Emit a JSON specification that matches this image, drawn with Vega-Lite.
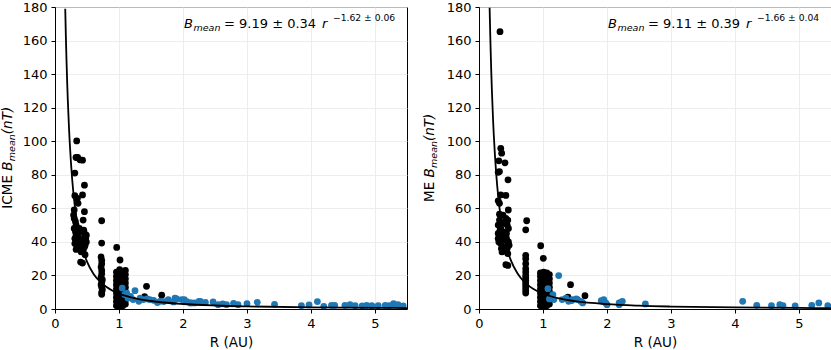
{
"$schema": "https://vega.github.io/schema/vega-lite/v6.json",
"padding": {"left": 0, "top": 0, "right": 0, "bottom": 0},
"spacing": 14,
"datasets": {
"icme_pts": [
{"R":0.339,"B":100.2,"g":"A"},{"R":0.328,"B":90.3,"g":"A"},{"R":0.354,"B":90.3,"g":"A"},{"R":0.39,"B":88.9,"g":"A"},{"R":0.43,"B":88.7,"g":"A"},{"R":0.31,"B":81,"g":"A"},{"R":0.46,"B":73.8,"g":"A"},{"R":0.31,"B":67.5,"g":"A"},{"R":0.43,"B":68,"g":"A"},{"R":0.35,"B":66,"g":"A"},{"R":0.36,"B":63,"g":"A"},{"R":0.30,"B":59,"g":"A"},{"R":0.46,"B":58,"g":"A"},{"R":0.29,"B":56,"g":"A"},{"R":0.44,"B":53,"g":"A"},{"R":0.30,"B":54,"g":"A"},{"R":0.33,"B":50,"g":"A"},{"R":0.30,"B":48,"g":"A"},{"R":0.39,"B":46,"g":"A"},{"R":0.46,"B":45,"g":"A"},{"R":0.36,"B":43,"g":"A"},{"R":0.44,"B":42,"g":"A"},{"R":0.31,"B":39,"g":"A"},{"R":0.41,"B":38,"g":"A"},{"R":0.49,"B":40,"g":"A"},{"R":0.37,"B":36,"g":"A"},{"R":0.44,"B":35,"g":"A"},{"R":0.47,"B":32.4,"g":"A"},{"R":0.43,"B":27.4,"g":"A"},{"R":0.40,"B":28,"g":"A"},{"R":0.33,"B":44,"g":"A"},{"R":0.49,"B":44,"g":"A"},{"R":0.34,"B":41,"g":"A"},{"R":0.40,"B":40,"g":"A"},{"R":0.42,"B":39,"g":"A"},{"R":0.46,"B":37,"g":"A"},{"R":0.35,"B":37,"g":"A"},{"R":0.32,"B":46,"g":"A"},{"R":0.38,"B":48,"g":"A"},{"R":0.45,"B":47,"g":"A"},{"R":0.48,"B":42,"g":"A"},{"R":0.41,"B":34,"g":"A"},{"R":0.36,"B":39,"g":"A"},{"R":0.33,"B":35.5,"g":"A"},{"R":0.47,"B":38,"g":"A"},{"R":0.32,"B":52,"g":"A"},{"R":0.31,"B":42,"g":"A"},
{"R":0.729,"B":52.6,"g":"A"},{"R":0.729,"B":39.3,"g":"A"},{"R":0.72,"B":31,"g":"A"},{"R":0.73,"B":29,"g":"A"},{"R":0.73,"B":27,"g":"A"},{"R":0.72,"B":25,"g":"A"},{"R":0.73,"B":23,"g":"A"},{"R":0.73,"B":21,"g":"A"},{"R":0.72,"B":19,"g":"A"},{"R":0.74,"B":17.5,"g":"A"},{"R":0.73,"B":16,"g":"A"},{"R":0.72,"B":14.5,"g":"A"},{"R":0.73,"B":13,"g":"A"},{"R":0.74,"B":11.5,"g":"A"},{"R":0.73,"B":10,"g":"A"},{"R":0.73,"B":8.8,"g":"A"},
{"R":0.964,"B":36.7,"g":"A"},{"R":1.016,"B":29.2,"g":"A"},
{"R":0.96,"B":2,"g":"A"},{"R":0.96,"B":4.5,"g":"A"},{"R":0.96,"B":7,"g":"A"},{"R":0.96,"B":9.5,"g":"A"},{"R":0.96,"B":12,"g":"A"},{"R":0.96,"B":14.5,"g":"A"},{"R":0.96,"B":17,"g":"A"},{"R":0.96,"B":19.5,"g":"A"},{"R":0.96,"B":22,"g":"A"},
{"R":1.01,"B":1.5,"g":"A"},{"R":1.01,"B":4,"g":"A"},{"R":1.01,"B":6.5,"g":"A"},{"R":1.01,"B":9,"g":"A"},{"R":1.01,"B":11.5,"g":"A"},{"R":1.01,"B":14,"g":"A"},{"R":1.01,"B":16.5,"g":"A"},{"R":1.01,"B":19,"g":"A"},{"R":1.01,"B":21.5,"g":"A"},{"R":1.01,"B":23.5,"g":"A"},
{"R":1.06,"B":2,"g":"A"},{"R":1.06,"B":4.5,"g":"A"},{"R":1.06,"B":7,"g":"A"},{"R":1.06,"B":9.5,"g":"A"},{"R":1.06,"B":12,"g":"A"},{"R":1.06,"B":14.5,"g":"A"},{"R":1.06,"B":17,"g":"A"},{"R":1.06,"B":19.5,"g":"A"},{"R":1.06,"B":22,"g":"A"},
{"R":1.1,"B":3,"g":"A"},{"R":1.1,"B":5.5,"g":"A"},{"R":1.1,"B":8,"g":"A"},{"R":1.1,"B":10.5,"g":"A"},{"R":1.1,"B":13,"g":"A"},{"R":1.1,"B":15.5,"g":"A"},{"R":1.1,"B":18,"g":"A"},{"R":1.1,"B":20.5,"g":"A"},{"R":1.1,"B":23,"g":"A"},
{"R":1.43,"B":13.5,"g":"A"},{"R":1.667,"B":8.2,"g":"A"},{"R":1.40,"B":7.3,"g":"A"},
{"R":1.05,"B":12.5,"g":"B"},{"R":1.25,"B":10.9,"g":"B"},{"R":1.09,"B":8.6,"g":"B"},{"R":1.14,"B":6.5,"g":"B"},{"R":1.22,"B":5.6,"g":"B"},{"R":1.31,"B":4.6,"g":"B"},{"R":1.33,"B":6.5,"g":"B"},{"R":1.38,"B":5.6,"g":"B"},{"R":1.44,"B":6.0,"g":"B"},{"R":1.48,"B":5.6,"g":"B"},{"R":1.54,"B":5.2,"g":"B"},{"R":1.64,"B":4.6,"g":"B"},{"R":1.77,"B":5.6,"g":"B"},{"R":1.875,"B":6.5,"g":"B"},{"R":1.90,"B":6.0,"g":"B"},{"R":1.98,"B":5.6,"g":"B"},{"R":2.02,"B":5.6,"g":"B"},{"R":2.11,"B":3.6,"g":"B"},{"R":2.13,"B":3.6,"g":"B"},{"R":2.18,"B":3.6,"g":"B"},{"R":2.25,"B":4.6,"g":"B"},{"R":2.27,"B":4.6,"g":"B"},{"R":2.47,"B":4.2,"g":"B"},{"R":2.55,"B":2.6,"g":"B"},{"R":2.68,"B":2.6,"g":"B"},{"R":2.79,"B":3.4,"g":"B"},{"R":2.86,"B":2.6,"g":"B"},{"R":3.0,"B":3.2,"g":"B"},{"R":3.16,"B":4.0,"g":"B"},{"R":3.43,"B":2.8,"g":"B"},{"R":3.85,"B":2.0,"g":"B"},{"R":3.97,"B":2.4,"g":"B"},{"R":4.10,"B":4.4,"g":"B"},{"R":4.32,"B":2.2,"g":"B"},{"R":4.37,"B":2.2,"g":"B"},{"R":4.53,"B":2.2,"g":"B"},{"R":4.61,"B":2.6,"g":"B"},{"R":4.69,"B":2.0,"g":"B"},{"R":4.87,"B":2.2,"g":"B"},{"R":4.95,"B":2.0,"g":"B"},{"R":5.05,"B":2.0,"g":"B"},{"R":5.16,"B":2.2,"g":"B"},{"R":5.29,"B":3.2,"g":"B"},{"R":5.36,"B":2.6,"g":"B"},{"R":5.44,"B":1.8,"g":"B"},
{"R":1.12,"B":9.5,"g":"B"},{"R":1.18,"B":7.5,"g":"B"},{"R":1.6,"B":3.8,"g":"B"},{"R":1.7,"B":4.4,"g":"B"},{"R":1.85,"B":4.2,"g":"B"},{"R":2.06,"B":4.4,"g":"B"},{"R":2.35,"B":3.9,"g":"B"},{"R":2.62,"B":3.1,"g":"B"},{"R":4.2,"B":1.6,"g":"B"},{"R":4.8,"B":1.8,"g":"B"},{"R":5.22,"B":2.0,"g":"B"}
],
"me_pts": [
{"R":0.328,"B":165.3,"g":"A"},{"R":0.34,"B":95.8,"g":"A"},{"R":0.354,"B":92.9,"g":"A"},{"R":0.31,"B":88.3,"g":"A"},{"R":0.406,"B":87.1,"g":"A"},{"R":0.32,"B":81.9,"g":"A"},{"R":0.30,"B":81.5,"g":"A"},{"R":0.453,"B":77,"g":"A"},{"R":0.34,"B":68,"g":"A"},{"R":0.42,"B":67.7,"g":"A"},{"R":0.30,"B":64.5,"g":"A"},{"R":0.32,"B":63,"g":"A"},{"R":0.458,"B":59,"g":"A"},{"R":0.32,"B":56.5,"g":"A"},{"R":0.375,"B":56,"g":"A"},{"R":0.42,"B":54,"g":"A"},{"R":0.45,"B":53,"g":"A"},{"R":0.32,"B":53,"g":"A"},{"R":0.30,"B":50,"g":"A"},{"R":0.34,"B":48,"g":"A"},{"R":0.30,"B":45,"g":"A"},{"R":0.36,"B":44,"g":"A"},{"R":0.30,"B":42,"g":"A"},{"R":0.38,"B":41,"g":"A"},{"R":0.43,"B":42,"g":"A"},{"R":0.46,"B":40,"g":"A"},{"R":0.34,"B":39,"g":"A"},{"R":0.40,"B":37,"g":"A"},{"R":0.44,"B":36,"g":"A"},{"R":0.36,"B":34,"g":"A"},{"R":0.45,"B":33,"g":"A"},{"R":0.42,"B":26.4,"g":"A"},{"R":0.45,"B":26,"g":"A"},{"R":0.33,"B":47,"g":"A"},{"R":0.38,"B":46,"g":"A"},{"R":0.43,"B":45,"g":"A"},{"R":0.46,"B":48,"g":"A"},{"R":0.31,"B":40,"g":"A"},{"R":0.40,"B":43,"g":"A"},{"R":0.35,"B":36,"g":"A"},{"R":0.47,"B":38,"g":"A"},{"R":0.44,"B":50,"g":"A"},{"R":0.37,"B":51,"g":"A"},
{"R":0.745,"B":52.6,"g":"A"},{"R":0.73,"B":47.2,"g":"A"},{"R":0.73,"B":32,"g":"A"},{"R":0.73,"B":30,"g":"A"},{"R":0.73,"B":27,"g":"A"},{"R":0.73,"B":24,"g":"A"},{"R":0.73,"B":22,"g":"A"},{"R":0.73,"B":20,"g":"A"},{"R":0.73,"B":18.5,"g":"A"},{"R":0.73,"B":17,"g":"A"},{"R":0.73,"B":15.5,"g":"A"},{"R":0.73,"B":14,"g":"A"},{"R":0.73,"B":12.5,"g":"A"},{"R":0.73,"B":11,"g":"A"},{"R":0.73,"B":9.5,"g":"A"},
{"R":0.964,"B":37.7,"g":"A"},{"R":1.005,"B":30.2,"g":"A"},
{"R":0.96,"B":2,"g":"A"},{"R":0.96,"B":4.5,"g":"A"},{"R":0.96,"B":7,"g":"A"},{"R":0.96,"B":9.5,"g":"A"},{"R":0.96,"B":12,"g":"A"},{"R":0.96,"B":14.5,"g":"A"},{"R":0.96,"B":17,"g":"A"},{"R":0.96,"B":19.5,"g":"A"},{"R":0.96,"B":21.5,"g":"A"},
{"R":1.01,"B":1.5,"g":"A"},{"R":1.01,"B":4,"g":"A"},{"R":1.01,"B":6.5,"g":"A"},{"R":1.01,"B":9,"g":"A"},{"R":1.01,"B":11.5,"g":"A"},{"R":1.01,"B":14,"g":"A"},{"R":1.01,"B":16.5,"g":"A"},{"R":1.01,"B":19,"g":"A"},{"R":1.01,"B":22,"g":"A"},
{"R":1.06,"B":2,"g":"A"},{"R":1.06,"B":4.5,"g":"A"},{"R":1.06,"B":7,"g":"A"},{"R":1.06,"B":9.5,"g":"A"},{"R":1.06,"B":12,"g":"A"},{"R":1.06,"B":14.5,"g":"A"},{"R":1.06,"B":17,"g":"A"},{"R":1.06,"B":19.5,"g":"A"},{"R":1.06,"B":21.5,"g":"A"},
{"R":1.1,"B":3,"g":"A"},{"R":1.1,"B":5.5,"g":"A"},{"R":1.1,"B":8,"g":"A"},{"R":1.1,"B":10.5,"g":"A"},{"R":1.1,"B":13,"g":"A"},{"R":1.1,"B":15.5,"g":"A"},{"R":1.1,"B":18,"g":"A"},{"R":1.1,"B":20.5,"g":"A"},
{"R":1.43,"B":14.5,"g":"A"},{"R":1.39,"B":7.1,"g":"A"},{"R":1.656,"B":7.9,"g":"A"},
{"R":1.245,"B":19.9,"g":"B"},{"R":1.077,"B":12.1,"g":"B"},{"R":1.155,"B":8.6,"g":"B"},{"R":1.17,"B":5.6,"g":"B"},{"R":1.36,"B":6.5,"g":"B"},{"R":1.40,"B":4.6,"g":"B"},{"R":1.52,"B":6.0,"g":"B"},{"R":1.54,"B":5.6,"g":"B"},{"R":1.59,"B":4.6,"g":"B"},{"R":1.62,"B":3.6,"g":"B"},{"R":1.91,"B":5.0,"g":"B"},{"R":1.93,"B":4.6,"g":"B"},{"R":1.95,"B":5.6,"g":"B"},{"R":1.98,"B":3.6,"g":"B"},{"R":2.0,"B":2.6,"g":"B"},{"R":2.19,"B":3.6,"g":"B"},{"R":2.19,"B":2.6,"g":"B"},{"R":2.22,"B":4.0,"g":"B"},{"R":2.24,"B":4.6,"g":"B"},{"R":2.6,"B":3.0,"g":"B"},{"R":4.12,"B":4.6,"g":"B"},{"R":4.34,"B":2.2,"g":"B"},{"R":4.57,"B":2.0,"g":"B"},{"R":4.70,"B":2.6,"g":"B"},{"R":4.75,"B":2.0,"g":"B"},{"R":4.94,"B":1.8,"g":"B"},{"R":5.2,"B":2.2,"g":"B"},{"R":5.31,"B":3.6,"g":"B"},{"R":5.45,"B":2.0,"g":"B"},{"R":1.10,"B":6.0,"g":"B"},{"R":1.30,"B":5.6,"g":"B"},{"R":1.46,"B":5.6,"g":"B"},{"R":1.45,"B":5.0,"g":"B"}
],
"icme_fit": [
{"R":0.16,"B":178.9},{"R":0.17,"B":162.2},{"R":0.18,"B":147.9},{"R":0.19,"B":135.4},{"R":0.2,"B":124.6},{"R":0.22,"B":106.8},{"R":0.23,"B":99.4},{"R":0.25,"B":86.8},{"R":0.27,"B":76.6},{"R":0.3,"B":64.6},{"R":0.35,"B":50.3},{"R":0.4,"B":40.5},{"R":0.45,"B":33.5},{"R":0.5,"B":28.2},{"R":0.6,"B":21.0},{"R":0.7,"B":16.4},{"R":0.8,"B":13.2},{"R":0.9,"B":10.9},{"R":1.0,"B":9.19},{"R":1.25,"B":6.40},{"R":1.5,"B":4.77},{"R":2.0,"B":2.99},{"R":2.5,"B":2.08},{"R":3.0,"B":1.55},{"R":4.0,"B":0.97},{"R":5.0,"B":0.68},{"R":5.5,"B":0.58}
],
"me_fit": [
{"R":0.166,"B":179.5},{"R":0.17,"B":172.6},{"R":0.18,"B":157.0},{"R":0.19,"B":143.5},{"R":0.2,"B":131.7},{"R":0.22,"B":112.5},{"R":0.23,"B":104.5},{"R":0.25,"B":91.0},{"R":0.27,"B":80.1},{"R":0.3,"B":67.2},{"R":0.35,"B":52.0},{"R":0.4,"B":41.7},{"R":0.45,"B":34.3},{"R":0.5,"B":28.8},{"R":0.6,"B":21.3},{"R":0.7,"B":16.5},{"R":0.8,"B":13.2},{"R":0.9,"B":10.85},{"R":1.0,"B":9.11},{"R":1.25,"B":6.29},{"R":1.5,"B":4.65},{"R":2.0,"B":2.88},{"R":2.5,"B":1.99},{"R":3.0,"B":1.47},{"R":4.0,"B":0.91},{"R":5.0,"B":0.63},{"R":5.5,"B":0.54}
]
},
"hconcat": [
{
"width": 352, "height": 302,
"layer": [
{"data": {"name": "icme_pts"}, "mark": {"type": "circle", "size": 46, "opacity": 1, "clip": true},
 "encoding": {
  "x": {"field": "R", "type": "quantitative", "scale": {"domain": [0, 5.5], "nice": false, "zero": false}, "axis": {"values": [0,1,2,3,4,5], "tickCount": 6, "format": "d", "labelFlush": false, "labelOverlap": false, "title": "R (AU)"}},
  "y": {"field": "B", "type": "quantitative", "scale": {"domain": [0, 180], "nice": false}, "axis": {"values": [0,20,40,60,80,100,120,140,160,180], "tickCount": 10, "labelOverlap": false, "title": null}},
  "color": {"field": "g", "type": "nominal", "scale": {"domain": ["A","B"], "range": ["#000000","#1f77b4"]}, "legend": null}
 }},
{"data": {"name": "icme_fit"}, "mark": {"type": "line", "color": "#000000", "strokeWidth": 1.8, "interpolate": "monotone", "clip": true},
 "encoding": {
  "x": {"field": "R", "type": "quantitative", "axis": {"values": [0,1,2,3,4,5], "tickCount": 6, "format": "d", "labelFlush": false, "labelOverlap": false, "title": "R (AU)"}},
  "y": {"field": "B", "type": "quantitative", "axis": {"values": [0,20,40,60,80,100,120,140,160,180], "tickCount": 10, "labelOverlap": false, "title": null}}}},
{"data": {"values": [{}]}, "mark": {"type": "text", "align": "left", "baseline": "alphabetic", "fontSize": 13, "fontStyle": "italic", "dx": 0}, "encoding": {"x": {"datum": 2.016}, "y": {"datum": 167.7}, "text": {"value": "B"}}},
{"data": {"values": [{}]}, "mark": {"type": "text", "align": "left", "baseline": "alphabetic", "fontSize": 9.5, "fontStyle": "italic", "dx": 9.5, "dy": 3}, "encoding": {"x": {"datum": 2.016}, "y": {"datum": 167.7}, "text": {"value": "mean"}}},
{"data": {"values": [{}]}, "mark": {"type": "text", "align": "left", "baseline": "alphabetic", "fontSize": 13, "dx": 40}, "encoding": {"x": {"datum": 2.016}, "y": {"datum": 167.7}, "text": {"value": "= 9.19 ± 0.34"}}},
{"data": {"values": [{}]}, "mark": {"type": "text", "align": "left", "baseline": "alphabetic", "fontSize": 13, "fontStyle": "italic", "dx": 138}, "encoding": {"x": {"datum": 2.016}, "y": {"datum": 167.7}, "text": {"value": "r"}}},
{"data": {"values": [{}]}, "mark": {"type": "text", "align": "left", "baseline": "alphabetic", "fontSize": 9.2, "dx": 149, "dy": -7}, "encoding": {"x": {"datum": 2.016}, "y": {"datum": 167.7}, "text": {"value": "−1.62 ± 0.06"}}},
{"data": {"values": [{}]}, "mark": {"type": "text", "align": "left", "baseline": "alphabetic", "fontSize": 13.5, "angle": 270, "dx": 0}, "encoding": {"x": {"datum": -0.677}, "y": {"datum": 59.8}, "text": {"value": "ICME"}}},
{"data": {"values": [{}]}, "mark": {"type": "text", "align": "left", "baseline": "alphabetic", "fontSize": 13.5, "fontStyle": "italic", "angle": 270, "dx": 37.9}, "encoding": {"x": {"datum": -0.677}, "y": {"datum": 59.8}, "text": {"value": "B"}}},
{"data": {"values": [{}]}, "mark": {"type": "text", "align": "left", "baseline": "alphabetic", "fontSize": 9.5, "fontStyle": "italic", "angle": 270, "dx": 47.5, "dy": 3.5}, "encoding": {"x": {"datum": -0.677}, "y": {"datum": 59.8}, "text": {"value": "mean"}}},
{"data": {"values": [{}]}, "mark": {"type": "text", "align": "left", "baseline": "alphabetic", "fontSize": 13.5, "fontStyle": "italic", "angle": 270, "dx": 74.5}, "encoding": {"x": {"datum": -0.677}, "y": {"datum": 59.8}, "text": {"value": "(nT)"}}}
]
},
{
"width": 352, "height": 302,
"layer": [
{"data": {"name": "me_pts"}, "mark": {"type": "circle", "size": 46, "opacity": 1, "clip": true},
 "encoding": {
  "x": {"field": "R", "type": "quantitative", "scale": {"domain": [0, 5.5], "nice": false, "zero": false}, "axis": {"values": [0,1,2,3,4,5], "tickCount": 6, "format": "d", "labelFlush": false, "labelOverlap": false, "title": "R (AU)"}},
  "y": {"field": "B", "type": "quantitative", "scale": {"domain": [0, 180], "nice": false}, "axis": {"values": [0,20,40,60,80,100,120,140,160,180], "tickCount": 10, "labelOverlap": false, "title": null}},
  "color": {"field": "g", "type": "nominal", "scale": {"domain": ["A","B"], "range": ["#000000","#1f77b4"]}, "legend": null}
 }},
{"data": {"name": "me_fit"}, "mark": {"type": "line", "color": "#000000", "strokeWidth": 1.8, "interpolate": "monotone", "clip": true},
 "encoding": {
  "x": {"field": "R", "type": "quantitative", "axis": {"values": [0,1,2,3,4,5], "tickCount": 6, "format": "d", "labelFlush": false, "labelOverlap": false, "title": "R (AU)"}},
  "y": {"field": "B", "type": "quantitative", "axis": {"values": [0,20,40,60,80,100,120,140,160,180], "tickCount": 10, "labelOverlap": false, "title": null}}}},
{"data": {"values": [{}]}, "mark": {"type": "text", "align": "left", "baseline": "alphabetic", "fontSize": 13, "fontStyle": "italic", "dx": 0}, "encoding": {"x": {"datum": 2.016}, "y": {"datum": 167.7}, "text": {"value": "B"}}},
{"data": {"values": [{}]}, "mark": {"type": "text", "align": "left", "baseline": "alphabetic", "fontSize": 9.5, "fontStyle": "italic", "dx": 9.5, "dy": 3}, "encoding": {"x": {"datum": 2.016}, "y": {"datum": 167.7}, "text": {"value": "mean"}}},
{"data": {"values": [{}]}, "mark": {"type": "text", "align": "left", "baseline": "alphabetic", "fontSize": 13, "dx": 40}, "encoding": {"x": {"datum": 2.016}, "y": {"datum": 167.7}, "text": {"value": "= 9.11 ± 0.39"}}},
{"data": {"values": [{}]}, "mark": {"type": "text", "align": "left", "baseline": "alphabetic", "fontSize": 13, "fontStyle": "italic", "dx": 138}, "encoding": {"x": {"datum": 2.016}, "y": {"datum": 167.7}, "text": {"value": "r"}}},
{"data": {"values": [{}]}, "mark": {"type": "text", "align": "left", "baseline": "alphabetic", "fontSize": 9.2, "dx": 149, "dy": -7}, "encoding": {"x": {"datum": 2.016}, "y": {"datum": 167.7}, "text": {"value": "−1.66 ± 0.04"}}},
{"data": {"values": [{}]}, "mark": {"type": "text", "align": "left", "baseline": "alphabetic", "fontSize": 13.5, "angle": 270, "dx": 0}, "encoding": {"x": {"datum": -0.708}, "y": {"datum": 63.8}, "text": {"value": "ME"}}},
{"data": {"values": [{}]}, "mark": {"type": "text", "align": "left", "baseline": "alphabetic", "fontSize": 13.5, "fontStyle": "italic", "angle": 270, "dx": 24.5}, "encoding": {"x": {"datum": -0.708}, "y": {"datum": 63.8}, "text": {"value": "B"}}},
{"data": {"values": [{}]}, "mark": {"type": "text", "align": "left", "baseline": "alphabetic", "fontSize": 9.5, "fontStyle": "italic", "angle": 270, "dx": 34, "dy": 3.5}, "encoding": {"x": {"datum": -0.708}, "y": {"datum": 63.8}, "text": {"value": "mean"}}},
{"data": {"values": [{}]}, "mark": {"type": "text", "align": "left", "baseline": "alphabetic", "fontSize": 13.5, "fontStyle": "italic", "angle": 270, "dx": 61}, "encoding": {"x": {"datum": -0.708}, "y": {"datum": 63.8}, "text": {"value": "(nT)"}}}
]
}
],
"config": {
 "font": "DejaVu Sans",
 "view": {"stroke": "#000000", "strokeWidth": 1},
 "text": {"color": "#000000", "font": "DejaVu Sans"},
 "axis": {"domainColor": "#000000", "domainWidth": 1, "tickColor": "#000000", "tickSize": 4, "labelColor": "#000000", "labelFont": "DejaVu Sans", "labelFontSize": 13, "labelPadding": 4, "titleFont": "DejaVu Sans", "titleFontSize": 13.5, "titleFontWeight": "normal", "titleColor": "#000000", "titlePadding": 5, "gridColor": "#e8e8e8", "gridWidth": 0.8}
}
}
